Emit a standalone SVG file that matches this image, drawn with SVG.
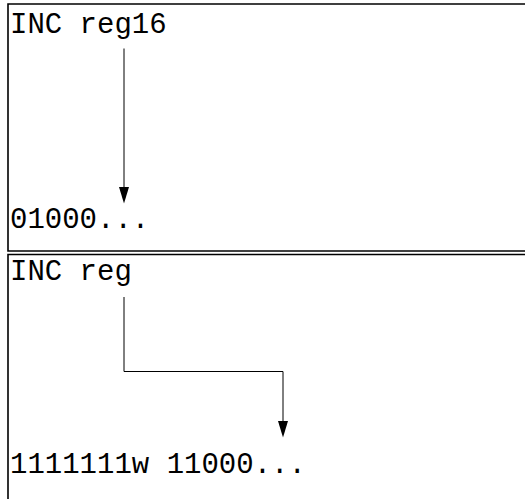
<svg xmlns="http://www.w3.org/2000/svg" width="525" height="499" viewBox="0 0 525 499">
<style>
.frame{fill:none;stroke:#000;stroke-width:1.6}
.t{font-family:"Liberation Mono","Courier New",monospace;font-size:29px;fill:#000}
.c{fill:none;stroke:#000;stroke-width:1}
.ah{fill:#000}
</style>
<rect width="525" height="499" fill="#fff"/>
<g id="box1">
<path class="frame" d="M526,4 H8 V251 H526"/>
<text class="t" x="10" y="32.7">INC reg16</text>
<text class="t" x="10" y="227.6">01000...</text>
</g>
<g id="box2">
<path class="frame" d="M526,254.5 H8 V500"/>
<text class="t" x="10" y="280">INC reg</text>
<text class="t" x="10" y="473">1111111w 11000...</text>
</g>
<g id="connectors">
<path class="c" d="M124,48.5 V188"/>
<path class="ah" d="M119,187 L129,187 L124,203.5 Z"/>
<path class="c" d="M124,297 V371.5 H283 V422"/>
<path class="ah" d="M278,421 L288,421 L283,437.5 Z"/>
</g>
</svg>
